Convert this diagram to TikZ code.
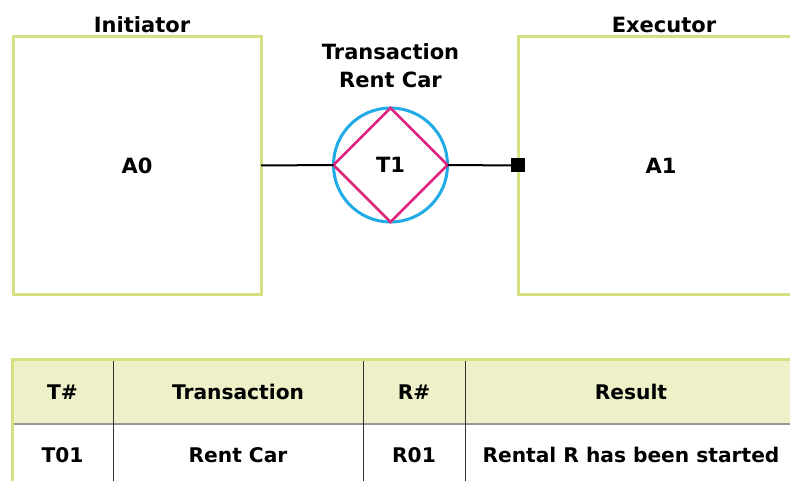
\documentclass[tikz,border=0pt]{standalone}
\usepackage{fontspec}
\setmainfont{DejaVu Sans}
\usetikzlibrary{positioning}

\definecolor{roleColor}{RGB}{214,223,130}
\definecolor{transColor}{RGB}{32,170,230}
\definecolor{actColor}{RGB}{222,40,128}
\definecolor{headColor}{RGB}{238,240,200}
\definecolor{sepColor}{RGB}{150,150,150}

\tikzset{
  txt/.style={font=\bfseries\fontsize{21}{28}\selectfont, inner sep=0pt},
  cell/.style={font=\bfseries\fontsize{20.2}{24}\selectfont, inner sep=0pt},
  role/.style={txt, draw=roleColor, line width=3pt, outer sep=0pt},
  trans/.style={txt, circle, draw=transColor, line width=3pt, outer sep=0pt, minimum size=114pt},
}

\begin{document}
\begin{tikzpicture}[x=1pt,y=-1pt]
  \useasboundingbox (0,0) rectangle (790,481);
  \clip (0,0) rectangle (790,481);
  % Actor roles
  \node[role, minimum width=248pt, minimum height=257pt] (a0) at (137,165.5) {A0};
  \node[role, minimum width=286pt, minimum height=257pt] (a1) at (661,165.5) {A1};
  \node[txt] (init) at (142,24.5) {Initiator};
  \node[txt] (exec) at (664,24.5) {Executor};
  % Transaction
  \node[trans] (t1) at (390.5,165) {T1};
  \draw[actColor, line width=2.5pt, line join=miter]
    (t1.north) -- (t1.east) -- (t1.south) -- (t1.west) -- cycle;
  \node[txt, align=center] (tname) at (390.5,66) {Transaction\\Rent Car};
  % Links
  \node[fill=black, minimum size=14pt, inner sep=0pt] (execMark) at (a1.west) {};
  \draw[line width=2pt] (a0.east) -- (t1.west);
  \draw[line width=2pt] (t1.east) -- (execMark);
  % Table
  \fill[headColor] (12,359) rectangle (800,424);
  \draw[sepColor, line width=2pt] (12,424) -- (800,424);
  \draw[black!80, line width=1pt] (113,359) -- (113,490);
  \draw[black!80, line width=1pt] (363,359) -- (363,490);
  \draw[black!80, line width=1pt] (465,359) -- (465,490);
  \draw[roleColor, line width=3pt] (12,490) -- (12,359) -- (800,359);
  \node[cell] (hNr) at (62.5,392) {T\#};
  \node[cell] (hTrans) at (238,392) {Transaction};
  \node[cell] (hRNr) at (414,392) {R\#};
  \node[cell] (hRes) at (631,392) {Result};
  \node[cell] (cNr) at (62.5,455) {T01};
  \node[cell] (cTrans) at (238,455) {Rent Car};
  \node[cell] (cRNr) at (414,455) {R01};
  \node[cell] (cRes) at (631,455) {Rental R has been started};
\end{tikzpicture}
\end{document}
